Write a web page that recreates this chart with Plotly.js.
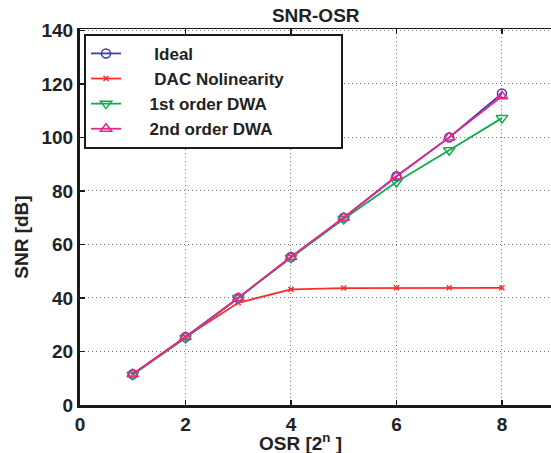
<!DOCTYPE html>
<html>
<head>
<meta charset="utf-8">
<script src="https://cdn.plot.ly/plotly-3.0.1.min.js"></script>
<style>html,body{margin:0;padding:0;background:#fff;}#chart{width:551px;height:453px;}</style>
</head>
<body>
<div id="chart"></div>
<script>
const osr = [1, 2, 3, 4, 5, 6, 7, 8];
const ideal = [11.5, 25.4, 40.0, 55.3, 70.0, 85.5, 100.0, 116.4];
const dacNonlin = [11.5, 25.4, 38.2, 43.2, 43.7, 43.8, 43.8, 43.8];
const dwa1 = [11.3, 25.0, 40.0, 55.0, 69.5, 83.3, 95.2, 107.2];
const dwa2 = [11.5, 25.4, 40.0, 55.3, 70.0, 85.5, 100.0, 115.4];
const seriesNames = ['Ideal', 'DAC Nolinearity', '1st order DWA', '2nd order DWA'];
const xTicks = [0, 2, 4, 6, 8];
const yTicks = [0, 20, 40, 60, 80, 100, 120, 140];

const FONT = 'Liberation Sans, Arial, sans-serif';
const txt = '#222';
const FS = 19;
const NB = '\u00a0';
const lead = [6, 6, 5, 5];
const trail = [0, 11, 0, 0];

function tr(y, i, color, symbol, size) {
  return {
    x: osr, y: y, name: NB.repeat(lead[i]) + seriesNames[i] + NB.repeat(trail[i]),
    type: 'scatter', mode: 'lines+markers',
    line: {color: color, width: 1.8},
    marker: {symbol: symbol, size: size, color: color, line: {color: color, width: 1.5}}
  };
}

const data = [
  tr(ideal, 0, '#3a3fae', 'circle-open', 9),
  tr(dacNonlin, 1, '#ff2b2b', 'x-thin-open', 5),
  tr(dwa1, 2, '#12ac4f', 'triangle-down-open', 10),
  tr(dwa2, 3, '#e8268f', 'triangle-up-open', 10)
];
// invisible trace on top axis for mirrored ticks
data.push({x: [0], y: [0], xaxis: 'x2', yaxis: 'y', mode: 'markers', marker: {opacity: 0}, showlegend: false, hoverinfo: 'skip'});

const layout = {
  width: 551, height: 453,
  margin: {l: 80, r: 0, t: 29, b: 48},
  paper_bgcolor: '#fff', plot_bgcolor: '#fff',
  font: {family: FONT, color: txt},
  showlegend: true,
  title: {text: 'SNR-OSR', x: 0.573, xanchor: 'center', y: 0.967, yanchor: 'middle',
          font: {family: FONT, size: FS, weight: 'bold', color: txt}},
  xaxis: {
    range: [0, 8.93], tickvals: xTicks, ticktext: xTicks.map(String),
    showgrid: true, gridcolor: '#777', griddash: '1px,3px', gridwidth: 1,
    zeroline: false, showline: true, linecolor: '#1a1a1a', linewidth: 3,
    ticks: 'inside', ticklen: 5, tickcolor: '#1a1a1a', tickwidth: 1.5,
    tickfont: {family: FONT, size: FS, weight: 'bold', color: txt},
    fixedrange: true
  },
  xaxis2: {
    overlaying: 'x', side: 'top', matches: 'x', range: [0, 8.93], tickvals: xTicks,
    showticklabels: false, showgrid: false, zeroline: false,
    showline: true, linecolor: '#1a1a1a', linewidth: 1.5,
    ticks: 'inside', ticklen: 5, tickcolor: '#1a1a1a', tickwidth: 1.5
  },
  yaxis: {
    range: [0, 140.5], tickvals: yTicks, ticktext: yTicks.map(String),
    showgrid: true, gridcolor: '#777', griddash: '1px,3px', gridwidth: 1,
    zeroline: false, showline: true, linecolor: '#1a1a1a', linewidth: 3,
    ticks: 'inside', ticklen: 5, tickcolor: '#1a1a1a', tickwidth: 1.5,
    tickfont: {family: FONT, size: FS, weight: 'bold', color: txt},
    fixedrange: true
  },
  legend: {
    x: 0.0085, y: 0.987, xanchor: 'left', yanchor: 'top',
    bgcolor: '#fff', bordercolor: '#1a1a1a', borderwidth: 2,
    font: {family: FONT, size: 17, weight: 'bold', color: txt},
    tracegroupgap: 0, itemwidth: 30
  },
  annotations: [
    {text: 'OSR [2<sup>n</sup> ]', xref: 'paper', yref: 'paper', x: 0.469, y: -0.098,
     xanchor: 'center', yanchor: 'middle', showarrow: false,
     font: {family: FONT, size: FS, weight: 'bold', color: txt}},
    {text: 'SNR [dB]', xref: 'paper', yref: 'paper', x: -0.123, y: 0.445,
     xanchor: 'center', yanchor: 'middle', showarrow: false, textangle: -90,
     font: {family: FONT, size: FS, weight: 'bold', color: txt}}
  ]
};

Plotly.newPlot('chart', data, layout, {displayModeBar: false, staticPlot: true});
</script>
</body>
</html>
